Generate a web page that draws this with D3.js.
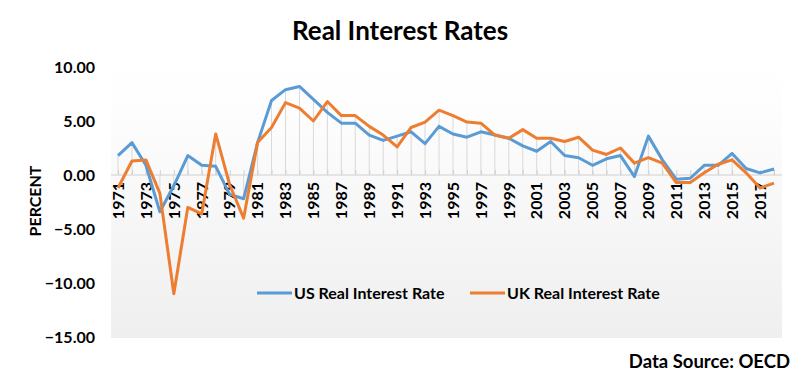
<!DOCTYPE html>
<html>
<head>
<meta charset="utf-8">
<script src="https://cdn.jsdelivr.net/npm/d3@7"></script>
<style>
 body { margin: 0; background: #fff; }
 text { font-family: Lato, "Open Sans", sans-serif; font-weight: bold; fill: #000; }
</style>
</head>
<body>
<div id="chart"></div>
<script>
// years on the category axis
var years = d3.range(1971, 2019);

// real interest rates, percent
var usRate = [1.8, 3.0, 0.9, -3.4, -1.0, 1.8, 0.9, 0.8, -1.8, -2.2,
 3.0, 6.9, 7.9, 8.2, 7.0, 5.8, 4.8, 4.8, 3.7, 3.2,
 3.6, 4.0, 2.9, 4.5, 3.8, 3.5, 4.0, 3.7, 3.4, 2.7,
 2.2, 3.1, 1.8, 1.6, 0.9, 1.5, 1.8, -0.15, 3.6, 1.4,
 -0.4, -0.3, 0.9, 0.9, 2.0, 0.6, 0.2, 0.55];
var ukRate = [-1.2, 1.3, 1.4, -1.7, -11.0, -3.0, -3.6, 3.8, -0.9, -4.0,
 3.0, 4.4, 6.7, 6.2, 5.0, 6.8, 5.5, 5.5, 4.5, 3.7,
 2.6, 4.4, 4.9, 6.0, 5.5, 4.9, 4.8, 3.7, 3.4, 4.2,
 3.4, 3.4, 3.1, 3.5, 2.3, 1.9, 2.5, 1.1, 1.6, 1.1,
 -0.7, -0.7, 0.2, 1.0, 1.4, 0.2, -1.2, -0.75];

var yTicks = [10, 5, 0, -5, -10, -15];
var yearLabels = years.filter(function(d){ return (d - 1971) % 2 === 0; });
var seriesNames = ['US Real Interest Rate', 'UK Real Interest Rate'];
var seriesColors = ['#5b9bd5', '#ed7d31'];

// layout of the picture
var svgWidth = 800, svgHeight = 390;
var plotLeft = 111, plotRight = 782;   // grey plot area
var plotTop = 60, plotBottom = 338;

var svg = d3.select('#chart').append('svg')
 .attr('width', svgWidth).attr('height', svgHeight);

// soft vertical gradient behind the plot
var grad = svg.append('defs').append('linearGradient')
 .attr('id', 'plotFill').attr('x1', 0).attr('y1', 0).attr('x2', 0).attr('y2', 1);
grad.append('stop').attr('offset', '0%').attr('stop-color', '#ffffff');
grad.append('stop').attr('offset', '20%').attr('stop-color', '#fdfdfd');
grad.append('stop').attr('offset', '100%').attr('stop-color', '#efefef');

svg.append('rect')
 .attr('x', plotLeft).attr('y', plotTop)
 .attr('width', plotRight - plotLeft).attr('height', plotBottom - plotTop)
 .style('fill', 'url(#plotFill)');

var x = d3.scalePoint().domain(years).range([118, 774]);
var y = d3.scaleLinear().domain([-15, 10]).range([337, 67]);

// title
svg.append('text').attr('x', 400).attr('y', 40)
 .attr('text-anchor', 'middle').style('font-size', '26px')
 .text('Real Interest Rates');

// y axis labels (no axis line in the picture)
var yAxis = d3.axisLeft(y).tickValues(yTicks).tickSize(0).tickPadding(0)
 .tickFormat(d3.format('.2f'));
var yG = svg.append('g').attr('transform', 'translate(95,0)').call(yAxis);
yG.select('.domain').remove();
yG.selectAll('text').style('font-size', '16px').attr('dy', '0.35em');

svg.append('text')
 .attr('transform', 'translate(41,201) rotate(-90)')
 .attr('text-anchor', 'middle').style('font-size', '16px')
 .text('PERCENT');

// drop lines from each year's highest point to the zero line
svg.append('g').selectAll('line').data(years).join('line')
 .attr('x1', function(d){ return x(d); })
 .attr('x2', function(d){ return x(d); })
 .attr('y1', y(0))
 .attr('y2', function(d, i){ return y(Math.max(usRate[i], ukRate[i])); })
 .style('stroke', '#d9d9d9').style('stroke-width', 1);

// zero line with small ticks
var xAxis = d3.axisBottom(x).tickSize(5).tickSizeOuter(0).tickFormat('');
var xG = svg.append('g').attr('transform', 'translate(0,' + y(0) + ')').call(xAxis);
xG.select('.domain').attr('d', 'M' + plotLeft + ',0H' + plotRight)
 .style('stroke', '#d0d0d0');
xG.selectAll('.tick line').attr('y1', -5).attr('y2', 0).style('stroke', '#d0d0d0');

// rotated year labels, every other year
var yearG = svg.append('g').selectAll('g').data(yearLabels).join('g')
 .attr('transform', function(d){ return 'translate(' + x(d) + ',' + (y(0) + 7) + ')'; });
yearG.append('text')
 .attr('transform', 'rotate(-90)')
 .attr('text-anchor', 'end')
 .attr('dy', '0.36em')
 .style('font-size', '16px')
 .text(function(d){ return String(d); });

// the two series
var series = [usRate, ukRate];
var line = d3.line()
 .x(function(d, i){ return x(years[i]); })
 .y(function(d){ return y(d); });

svg.append('g').selectAll('path').data(series).join('path')
 .attr('d', line)
 .style('fill', 'none')
 .style('stroke', function(d, i){ return seriesColors[i]; })
 .style('stroke-width', 3)
 .style('stroke-linejoin', 'round');

// legend
var legendX = [257, 470];
var legend = svg.append('g').selectAll('g').data(seriesNames).join('g')
 .attr('transform', function(d, i){ return 'translate(' + legendX[i] + ',293)'; });
legend.append('line')
 .attr('x1', 0).attr('x2', 35).attr('y1', 0).attr('y2', 0)
 .style('stroke', function(d, i){ return seriesColors[i]; })
 .style('stroke-width', 3);
legend.append('text').attr('x', 37).attr('dy', '0.35em')
 .style('font-size', '16px')
 .text(function(d){ return d; });

// source note
svg.append('text').attr('x', 790).attr('y', 368)
 .attr('text-anchor', 'end').style('font-size', '18.5px')
 .text('Data Source: OECD');
</script>
</body>
</html>
